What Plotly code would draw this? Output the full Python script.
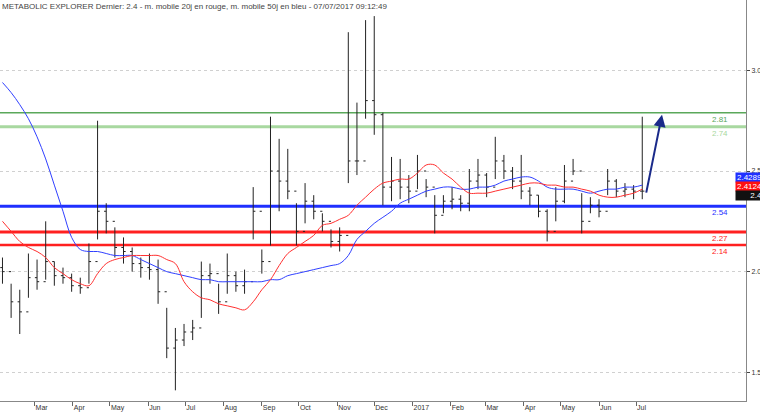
import pandas as pd
import plotly.graph_objects as go

# donnees hebdo
highs = [2.07, 1.94, 1.91, 2.09, 2.06, 2.25, 2.05, 2.02, 1.99, 1.97,
         2.14, 2.75, 2.34, 2.22, 2.17, 2.12, 2.07, 2.09, 2.06, 1.82,
         1.72, 1.74, 1.76, 2.05, 2.04, 1.94, 2.09, 2.00, 2.01, 2.42,
         2.11, 2.77, 2.66, 2.61, 2.34, 2.44, 2.38, 2.29, 2.21, 2.22,
         3.19, 2.84, 3.25, 3.27, 2.79, 2.57, 2.56, 2.48, 2.58, 2.46,
         2.38, 2.38, 2.42, 2.38, 2.51, 2.56, 2.49, 2.67, 2.58, 2.52,
         2.58, 2.42, 2.38, 2.31, 2.42, 2.53, 2.56, 2.39, 2.37, 2.36,
         2.51, 2.46, 2.44, 2.43, 2.77]
lows = [1.94, 1.77, 1.69, 1.87, 1.91, 1.96, 1.93, 1.94, 1.90, 1.89,
        1.94, 2.16, 2.19, 2.07, 2.04, 2.00, 1.97, 1.96, 1.84, 1.57,
        1.41, 1.63, 1.66, 1.77, 1.94, 1.79, 1.89, 1.90, 1.89, 2.16,
        1.99, 2.13, 2.30, 2.36, 2.13, 2.24, 2.26, 2.20, 2.12, 2.10,
        2.44, 2.48, 2.76, 2.68, 2.33, 2.35, 2.36, 2.34, 2.41, 2.37,
        2.19, 2.29, 2.31, 2.30, 2.30, 2.41, 2.37, 2.46, 2.46, 2.41,
        2.36, 2.33, 2.27, 2.15, 2.25, 2.34, 2.48, 2.19, 2.29, 2.27,
        2.38, 2.37, 2.37, 2.36, 2.36]
closes = [2.00, 1.85, 1.80, 1.97, 1.95, 2.05, 1.98, 1.97, 1.93, 1.92,
          2.05, 2.30, 2.25, 2.12, 2.10, 2.04, 2.02, 2.01, 1.90, 1.62,
          1.66, 1.70, 1.72, 1.98, 1.99, 1.85, 1.98, 1.93, 1.95, 2.30,
          2.05, 2.50, 2.45, 2.40, 2.20, 2.35, 2.30, 2.25, 2.15, 2.18,
          2.55, 2.55, 2.85, 2.78, 2.42, 2.45, 2.42, 2.40, 2.50, 2.42,
          2.28, 2.35, 2.36, 2.34, 2.45, 2.48, 2.42, 2.55, 2.50, 2.45,
          2.40, 2.38, 2.30, 2.20, 2.35, 2.45, 2.50, 2.25, 2.33, 2.30,
          2.45, 2.40, 2.41, 2.40, 2.40]
opens = [2.02] + closes[:-1]

ma50 = [2.94, 2.89, 2.83, 2.76, 2.67, 2.56, 2.43, 2.30, 2.17, 2.11,
        2.10, 2.10, 2.09, 2.08, 2.08, 2.08, 2.06, 2.04, 2.02, 2.00,
        1.99, 1.98, 1.97, 1.96, 1.96, 1.95, 1.95, 1.95, 1.95, 1.95,
        1.95, 1.96, 1.96, 1.98, 1.99, 2.00, 2.01, 2.02, 2.03, 2.04,
        2.08, 2.16, 2.20, 2.24, 2.27, 2.30, 2.34, 2.36, 2.38, 2.40,
        2.41, 2.42, 2.42, 2.41, 2.41, 2.42, 2.42, 2.43, 2.45, 2.46,
        2.47, 2.47, 2.45, 2.42, 2.41, 2.41, 2.41, 2.40, 2.39, 2.40,
        2.41, 2.41, 2.42, 2.42, 2.43]
ma20 = [2.25, 2.20, 2.15, 2.12, 2.10, 2.07, 2.02, 1.99, 1.96, 1.94,
        1.93, 1.99, 2.04, 2.06, 2.07, 2.08, 2.08, 2.08, 2.08, 2.06,
        2.04, 1.95, 1.90, 1.87, 1.86, 1.84, 1.83, 1.82, 1.81, 1.85,
        1.91, 1.96, 2.03, 2.09, 2.12, 2.15, 2.18, 2.23, 2.24, 2.26,
        2.28, 2.33, 2.37, 2.41, 2.44, 2.45, 2.46, 2.46, 2.49, 2.53,
        2.53, 2.49, 2.46, 2.42, 2.39, 2.39, 2.39, 2.40, 2.41, 2.42,
        2.43, 2.44, 2.44, 2.43, 2.43, 2.42, 2.42, 2.41, 2.40, 2.38,
        2.37, 2.37, 2.38, 2.39, 2.41]
dates = pd.date_range('2016-02-04', periods=len(closes), freq='7D')

# niveaux horizontaux : (prix, couleur, epaisseur, texte)
levels = [(2.79, '#5aa85a', 1.5, '2.81'), (2.72, '#a8d8a0', 3, '2.74'),
          (2.325, '#1f2fff', 3, '2.54'), (2.197, '#ff2020', 3, '2.27'),
          (2.132, '#ff2020', 2.5, '2.14')]
months = ['2016-03-01', '2016-04-01', '2016-05-01', '2016-06-01', '2016-07-01', '2016-08-01',
          '2016-09-01', '2016-10-01', '2016-11-01', '2016-12-01', '2017-01-01', '2017-02-01',
          '2017-03-01', '2017-04-01', '2017-05-01', '2017-06-01', '2017-07-01']
month_labels = ['Mar', 'Apr', 'May', 'Jun', 'Jul', 'Aug', 'Sep', 'Oct', 'Nov', 'Dec', '2017',
                'Feb', 'Mar', 'Apr', 'May', 'Jun', 'Jul']

fig = go.Figure()
for price, col, w, txt in levels:
    fig.add_hline(y=price, line=dict(color=col, width=w), layer='below')
    fig.add_annotation(x=0.978, xref='paper', y=price, text=txt, showarrow=False,
                       xanchor='right', yanchor='top', font=dict(size=8, color=col))
fig.add_trace(go.Ohlc(x=dates, open=opens, high=highs, low=lows, close=closes,
                      increasing_line_color='#222', decreasing_line_color='#222',
                      line_width=1, tickwidth=0.25, showlegend=False))
fig.add_trace(go.Scatter(x=dates, y=ma50, mode='lines', line=dict(color='#3040ff', width=1),
                         line_shape='spline', showlegend=False))
fig.add_trace(go.Scatter(x=dates, y=ma20, mode='lines', line=dict(color='#ff3030', width=1),
                         line_shape='spline', showlegend=False))

# fleche
fig.add_annotation(x='2017-07-22', y=2.78, ax='2017-07-09', ay=2.385, axref='x', ayref='y',
                   xref='x', yref='y', showarrow=True, arrowhead=2, arrowsize=1.2,
                   arrowwidth=2, arrowcolor='#1a2a8a', text='')

# etiquettes des derniers cours
for val, txt, bg in [(2.47, '2.4289', '#2030ff'), (2.424, '2.4124', '#ff1010'), (2.38, '2.4', '#111')]:
    fig.add_annotation(x=0.985, xref='paper', y=val, text=txt, showarrow=False, xanchor='left',
                       bgcolor=bg, font=dict(size=8, color='white'), borderpad=0, width=26,
                       align='right')

fig.add_annotation(x=0, xref='paper', y=1, yref='paper', yanchor='top', xanchor='left',
                   showarrow=False,
                   text='METABOLIC EXPLORER Dernier: 2.4 - m. mobile 20j en rouge, m. mobile 50j en bleu - 07/07/2017 09:12:49',
                   font=dict(size=8, color='#444'))

fig.update_layout(
    width=760, height=415, margin=dict(l=0, r=14, t=0, b=14),
    plot_bgcolor='white', paper_bgcolor='white',
    font=dict(family='Liberation Sans, Arial', size=8, color='#333'),
    xaxis=dict(range=['2016-02-02', '2017-09-28'], rangeslider=dict(visible=False),
               tickvals=months, ticktext=month_labels, ticks='outside', ticklen=4,
               tickcolor='#666', ticklabelposition='outside right', showgrid=False,
               ticklabeloverflow='allow', ticklabelstandoff=0,
               showline=True, linecolor='#888', tickfont=dict(size=7)),
    yaxis=dict(side='right', range=[1.357, 3.35], tickvals=[1.5, 2.0, 2.5, 3.0],
               ticktext=['1.5', '2.0', '2.5', '3.0'], ticks='outside', ticklen=3,
               ticklabeloverflow='allow',
               showgrid=True, gridcolor='#d0d0d0', griddash='dot', zeroline=False,
               showline=True, linecolor='#888', tickfont=dict(size=7)),
)
fig.write_html("out.html", config={'displayModeBar': False},
               post_script="document.body.style.margin='0';")
